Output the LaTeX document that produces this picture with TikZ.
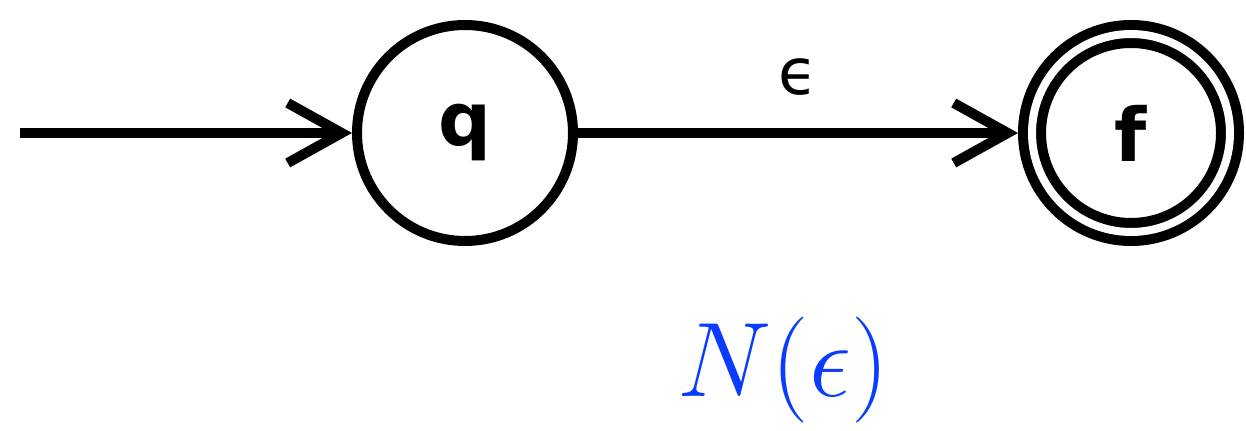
\RequirePackage{fix-cm}
\documentclass[tikz,border=0pt]{standalone}
\usepackage{fontspec}
\newfontfamily\dejavu{DejaVu Sans}
\usetikzlibrary{arrows.meta}
\definecolor{nblue}{RGB}{10,60,255}
\DeclareMathSizes{53}{53}{40}{30}
\tikzset{
  state/.style={circle, draw=black, line width=5pt, minimum size=108pt, inner sep=0pt,
    font=\dejavu\bfseries\fontsize{37}{40}\selectfont},
  accepting/.style={double=white, double distance=4pt, minimum size=99pt, outer sep=7pt},
  trans/.style={line width=5pt, -{Straight Barb[length=27pt,width=30pt,line cap=butt]}},
}
\begin{document}
\begin{tikzpicture}[x=0.5pt,y=-0.5pt]
\useasboundingbox (0,0) rectangle (1246,431);
\node[state] (q) at (465,133) {q};
\node[state,accepting] (f) at (1131,133) {f};
\coordinate (start) at (20,133);
\draw[trans] (start) -- (q);
\draw[trans] (q) -- node[midway, yshift=28pt, font=\dejavu\fontsize{32}{36}\selectfont] (eps) {ϵ} (f);
\node[text=nblue, font=\fontsize{53}{60}\selectfont] (lab) at (783,370) {$N(\epsilon)$};
\end{tikzpicture}
\end{document}
